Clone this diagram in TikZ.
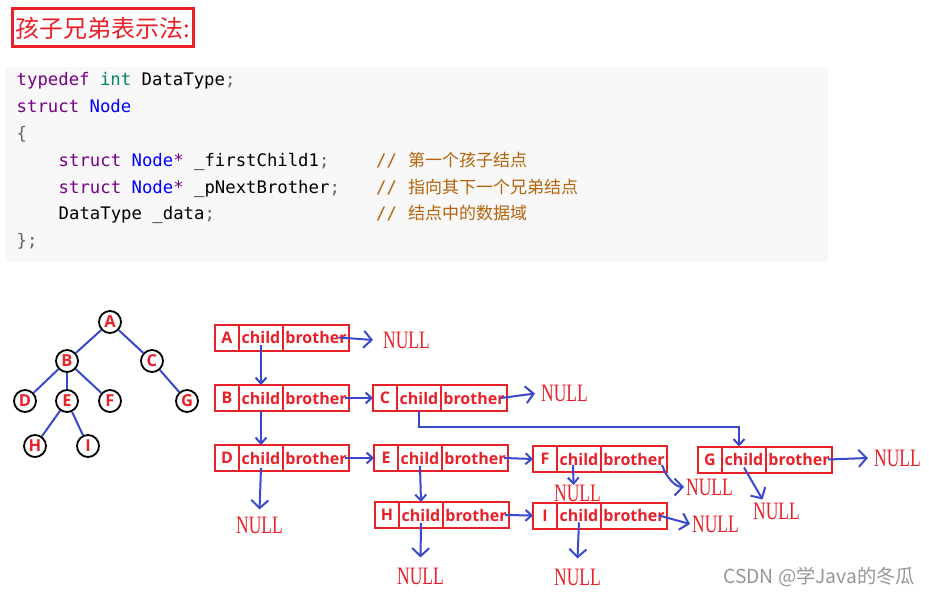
\documentclass[tikz,border=0pt]{standalone}
\usepackage{fontspec}
\setmainfont{Liberation Serif}
\newfontfamily\cjk{Noto Sans CJK SC}
\newfontfamily\codefont{DejaVu Sans Mono}
\newfontfamily\lab{Open Sans}
\usetikzlibrary{arrows.meta}
\definecolor{tred}{RGB}{232,32,40}
\definecolor{tblue}{RGB}{58,72,204}
\definecolor{kwpurple}{RGB}{119,0,136}
\definecolor{kwgreen}{RGB}{0,136,85}
\definecolor{kwblue}{RGB}{0,0,255}
\definecolor{cmt}{RGB}{180,100,10}
\definecolor{codebg}{RGB}{248,248,248}
\definecolor{punct}{RGB}{100,100,100}
\definecolor{wmgray}{RGB}{150,150,150}
\newcommand\recnode[4]{%
  \node[letcell,anchor=west] (#1) at (#3,#4) {#2};
  \node[childcell,anchor=west] (#1c) at (#1.east) {child};
  \node[brocell,anchor=west] (#1b) at (#1c.east) {brother};}
\begin{document}
\begin{tikzpicture}[x=1pt,y=-1pt,
  tnode/.style={circle, draw=black, line width=1.8pt, minimum size=22pt, inner sep=0pt,
    font=\lab\bfseries\fontsize{16.5}{16.5}\selectfont, text=tred, fill=white},
  tedge/.style={draw=tblue, line width=2pt},
  cellbase/.style={draw=tred, line width=2pt, minimum height=26pt, inner sep=0pt, outer sep=0pt,
    text=tred, font=\lab\bfseries\fontsize{16}{16}\selectfont},
  letcell/.style={cellbase, minimum width=24pt},
  childcell/.style={cellbase, minimum width=44pt},
  brocell/.style={cellbase, minimum width=66pt},
  nulltext/.style={text=tred, font=\fontsize{25}{25}\selectfont, inner sep=0pt, anchor=west},
  link/.style={draw=tblue, line width=2pt, -{Straight Barb[length=6pt,width=11pt]}},
  nullarrow/.style={draw=tblue, line width=2pt, -{Straight Barb[length=8pt,width=17pt]}},
  codeline/.style={anchor=base west, inner sep=0pt, font=\codefont\fontsize{17.3}{17.3}\selectfont},
  cmtline/.style={anchor=base west, inner sep=0pt, text=cmt, font=\codefont\fontsize{17.3}{17.3}\selectfont},
  cjkcmt/.style={anchor=base west, inner sep=0pt, text=cmt, font=\cjk\fontsize{17}{17}\selectfont}
]
\useasboundingbox (0,0) rectangle (929,596);
% title
\node[draw=tred, line width=3pt, minimum width=181pt, minimum height=38pt, inner sep=0pt,
  text=tred, font=\cjk\fontsize{24}{24}\selectfont] (title) at (102.5,28) {孩子兄弟表示法:};
% code block
\fill[codebg] (5,67) rectangle (828,262);
\node[codeline] (l1) at (16.5,86) {\textcolor{kwpurple}{typedef} \textcolor{kwgreen}{int} DataType\textcolor{punct}{;}};
\node[codeline] (l2) at (16.5,112.8) {\textcolor{kwpurple}{struct} \textcolor{kwblue}{Node}};
\node[codeline] (l3) at (16.5,139.6) {\textcolor{punct}{\{}};
\node[codeline] (l4) at (58.5,166.4) {\textcolor{kwpurple}{struct} \textcolor{kwblue}{Node}\textcolor{kwpurple}{*} \_firstChild1\textcolor{punct}{;}};
\node[codeline] (l5) at (58.5,193.2) {\textcolor{kwpurple}{struct} \textcolor{kwblue}{Node}\textcolor{kwpurple}{*} \_pNextBrother\textcolor{punct}{;}};
\node[codeline] (l6) at (58.5,220) {DataType \_data\textcolor{punct}{;}};
\node[codeline] (l7) at (16.5,246.8) {\textcolor{punct}{\};}};
\node[cmtline] (c1) at (376,166.4) {//};
\node[cmtline] (c2) at (376,193.2) {//};
\node[cmtline] (c3) at (376,220) {//};
\node[cjkcmt] (k1) at (408,166.4) {第一个孩子结点};
\node[cjkcmt] (k2) at (408,193.2) {指向其下一个兄弟结点};
\node[cjkcmt] (k3) at (408,220) {结点中的数据域};
% tree
\node[tnode] (tA) at (110,322) {A};
\node[tnode] (tB) at (67,361) {B};
\node[tnode] (tC) at (152,361) {C};
\node[tnode] (tD) at (25,401) {D};
\node[tnode] (tE) at (67,401) {E};
\node[tnode] (tF) at (110,401) {F};
\node[tnode] (tG) at (187,401) {G};
\node[tnode] (tH) at (35,446) {H};
\node[tnode] (tI) at (88,446) {I};
\draw[tedge] (tA) -- (tB);
\draw[tedge] (tA) -- (tC);
\draw[tedge] (tB) -- (tD);
\draw[tedge] (tB) -- (tE);
\draw[tedge] (tB) -- (tF);
\draw[tedge] (tC) -- (tG);
\draw[tedge] (tE) -- (tH);
\draw[tedge] (tE) -- (tI);
% records
\recnode{rA}{A}{215}{337.5}
\recnode{rB}{B}{215}{398}
\recnode{rC}{C}{373}{398}
\recnode{rD}{D}{215}{458}
\recnode{rE}{E}{374}{458}
\recnode{rF}{F}{533}{459}
\recnode{rG}{G}{698}{459.5}
\recnode{rH}{H}{375}{515}
\recnode{rI}{I}{533}{515.5}
% NULL labels
\node[nulltext] (nA) at (383,340) {\scalebox{0.7}[1]{NULL}};
\node[nulltext] (nC) at (541,393.5) {\scalebox{0.7}[1]{NULL}};
\node[nulltext] (nD) at (236,525) {\scalebox{0.7}[1]{NULL}};
\node[nulltext] (nFc) at (554,493.5) {\scalebox{0.7}[1]{NULL}};
\node[nulltext] (nFb) at (686,487) {\scalebox{0.7}[1]{NULL}};
\node[nulltext] (nGb) at (874,458) {\scalebox{0.7}[1]{NULL}};
\node[nulltext] (nGc) at (753,511) {\scalebox{0.7}[1]{NULL}};
\node[nulltext] (nIb) at (692,524) {\scalebox{0.7}[1]{NULL}};
\node[nulltext] (nHc) at (397,576) {\scalebox{0.7}[1]{NULL}};
\node[nulltext] (nIc) at (554,577) {\scalebox{0.7}[1]{NULL}};
% connectors
\draw[nullarrow] ([xshift=-10pt]rAb.east) -- ([xshift=-10pt]nA.west);
\draw[link] ([yshift=6pt]rAc.south) -- (rBc.north);
\draw[link] ([xshift=-4pt]rBb.east) -- (rC.west);
\draw[nullarrow] ([xshift=-6pt]rCb.east) -- ([xshift=-6pt]nC.west);
\draw[link] (rCc.south) -- ++(0,16) -| ([xshift=-5pt]rGc.north);
\draw[link] (rBc.south) -- (rDc.north);
\draw[link] ([xshift=-4pt]rDb.east) -- (rE.west);
\draw[nullarrow] ([yshift=3pt]rDc.south) -- ([yshift=7pt]nD.north);
\draw[link] ([xshift=-4pt]rEb.east) -- (rF.west);
\draw[link] ([yshift=5pt]rEc.south) -- (rHc.north);
\draw[link] ([xshift=-4pt]rHb.east) -- (rI.west);
\draw[nullarrow] ([yshift=5pt]rHc.south) -- ([yshift=10pt]nHc.north);
\draw[link] ([xshift=-6pt,yshift=7pt]rFc.south) -- ([xshift=-4pt]nFc.north);
\draw[nullarrow] ([xshift=-5pt,yshift=-6pt]rFb.east) .. controls +(5,14) and +(-8,0) .. ([xshift=-2pt]nFb.west);
\draw[nullarrow] ([xshift=-4pt]rGb.east) -- ([xshift=-6pt]nGb.west);
\draw[nullarrow] ([yshift=5pt]rGc.south) -- ([xshift=-14pt,yshift=3pt]nGc.north);
\draw[nullarrow] ([xshift=-8pt]rIb.east) -- ([xshift=-2pt]nIb.west);
\draw[nullarrow] ([yshift=6pt]rIc.south) -- ([yshift=10pt]nIc.north);
% watermark
\node[anchor=west, inner sep=0pt, text=wmgray, font=\cjk\fontsize{19.3}{19.3}\selectfont] (wm) at (723,577) {CSDN @学Java的冬瓜};
\end{tikzpicture}
\end{document}
